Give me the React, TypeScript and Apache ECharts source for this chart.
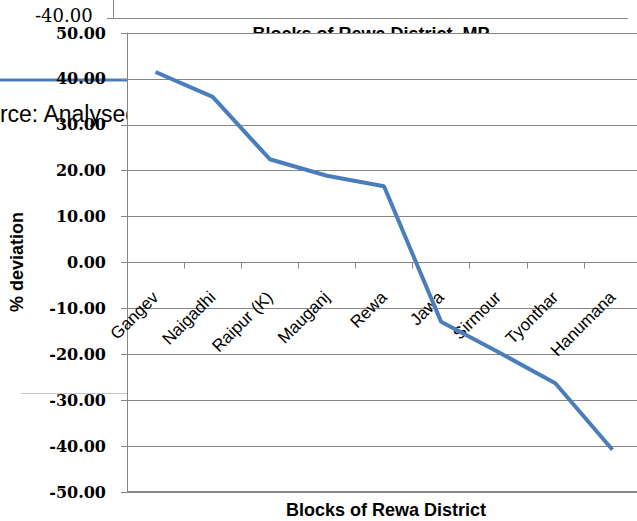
import React, { useEffect, useRef } from "react";
import * as echarts from "echarts";

const blocks = ["Gangev", "Naigadhi", "Raipur (K)", "Mauganj", "Rewa", "Jawa", "Sirmour", "Tyonthar", "Hanumana"];
const deviation = [41.5, 36.1, 22.5, 18.9, 16.6, -12.9, -19.5, -26.3, -40.8];
const yMin = -50;
const yMax = 50;
const yStep = 10;
const chartTitle = "Blocks of Rewa District, MP";
const xTitle = "Blocks of Rewa District";
const yTitle = "% deviation";
const sourceText = "Source: Analysed data";
const strayLabel = "-40.00";

const GRID = "#868686";
const BLUE = "#4A7EBB";
const GRID_TOP = 33;
const GRID_H = 459;

export default function App() {
  const ref = useRef<HTMLDivElement>(null);
  useEffect(() => {
    if (!ref.current) return;
    const chart = echarts.init(ref.current, undefined, { renderer: "svg" });
    // offset that lifts the category axis from the grid bottom to the zero line
    const zeroOffset = -(GRID_H * (0 - yMin)) / (yMax - yMin);
    chart.setOption({
      animation: false,
      backgroundColor: "#fff",
      grid: {
        left: 127,
        top: GRID_TOP,
        width: 514,
        height: GRID_H,
        containLabel: false,
        outerBoundsMode: "none",
      },
      xAxis: {
        type: "category",
        data: blocks,
        boundaryGap: true,
        z: 10,
        offset: zeroOffset,
        axisLine: { onZero: false, lineStyle: { color: GRID, width: 1 } },
        axisTick: { show: true, length: 6, lineStyle: { color: GRID } },
        axisLabel: {
          interval: 0,
          rotate: 45,
          margin: 32,
          fontSize: 17,
          fontFamily: "Liberation Sans",
          color: "#000",
        },
        splitLine: { show: false },
      },
      yAxis: {
        type: "value",
        min: yMin,
        max: yMax,
        interval: yStep,
        z: 10,
        axisLine: { show: true, lineStyle: { color: GRID, width: 1 } },
        axisTick: { show: true, length: 6, lineStyle: { color: GRID } },
        axisLabel: {
          margin: 21,
          fontSize: 16,
          fontWeight: "bold",
          fontFamily: "DejaVu Serif",
          color: "#000",
          formatter: (v: number) => v.toFixed(2),
        },
        splitLine: { show: true, lineStyle: { color: GRID, width: 1 } },
      },
      series: [
        {
          type: "line",
          data: deviation,
          z: 20,
          symbol: "none",
          lineStyle: { color: BLUE, width: 4 },
        },
      ],
      graphic: [
        {
          type: "text",
          x: 35,
          y: 6,
          z: 1,
          style: { text: strayLabel, font: 'normal 18px "DejaVu Serif"', fill: "#000", textVerticalAlign: "top" },
        },
        { type: "line", z: 1, shape: { x1: 113.5, y1: 0, x2: 113.5, y2: 18 }, style: { stroke: "#888", lineWidth: 1 } },
        { type: "line", z: 1, shape: { x1: 107, y1: 18.5, x2: 628, y2: 18.5 }, style: { stroke: "#888", lineWidth: 1 } },
        {
          type: "text",
          x: 371,
          y: 25,
          z: 1,
          style: { text: chartTitle, font: 'bold 18px "Liberation Sans"', fill: "#000", textAlign: "center", textVerticalAlign: "top" },
        },
        { type: "rect", z: 5, shape: { x: 225, y: 34, width: 290, height: 16 }, style: { fill: "#fff" } },
        { type: "line", z: 1, shape: { x1: 0, y1: 80, x2: 127, y2: 80 }, style: { stroke: BLUE, lineWidth: 3 } },
        {
          type: "text",
          x: -41,
          y: 114,
          z: 1,
          style: { text: sourceText, font: 'normal 23px "Liberation Sans"', fill: "#000", textVerticalAlign: "middle" },
        },
        { type: "rect", z: 5, shape: { x: 127.5, y: 96, width: 520, height: 34 }, style: { fill: "#fff" } },
        { type: "line", z: 1, shape: { x1: 21, y1: 393.5, x2: 127, y2: 393.5 }, style: { stroke: "#c8c8c8", lineWidth: 1 } },
        {
          type: "line",
          z: 11,
          shape: { x1: 127, y1: GRID_TOP + GRID_H, x2: 637, y2: GRID_TOP + GRID_H },
          style: { stroke: GRID, lineWidth: 2 },
        },
        {
          type: "text",
          x: 17,
          y: 262,
          rotation: Math.PI / 2,
          z: 1,
          style: { text: yTitle, font: 'bold 18px "Liberation Sans"', fill: "#000", textAlign: "center", textVerticalAlign: "middle" },
        },
        {
          type: "text",
          x: 386,
          y: 510,
          z: 1,
          style: { text: xTitle, font: 'bold 18px "Liberation Sans"', fill: "#000", textAlign: "center", textVerticalAlign: "middle" },
        },
      ],
    });
    return () => chart.dispose();
  }, []);
  return (
    <div
      ref={ref}
      style={{ position: "fixed", left: 0, top: 0, width: 637, height: 521, background: "#fff" }}
    />
  );
}
